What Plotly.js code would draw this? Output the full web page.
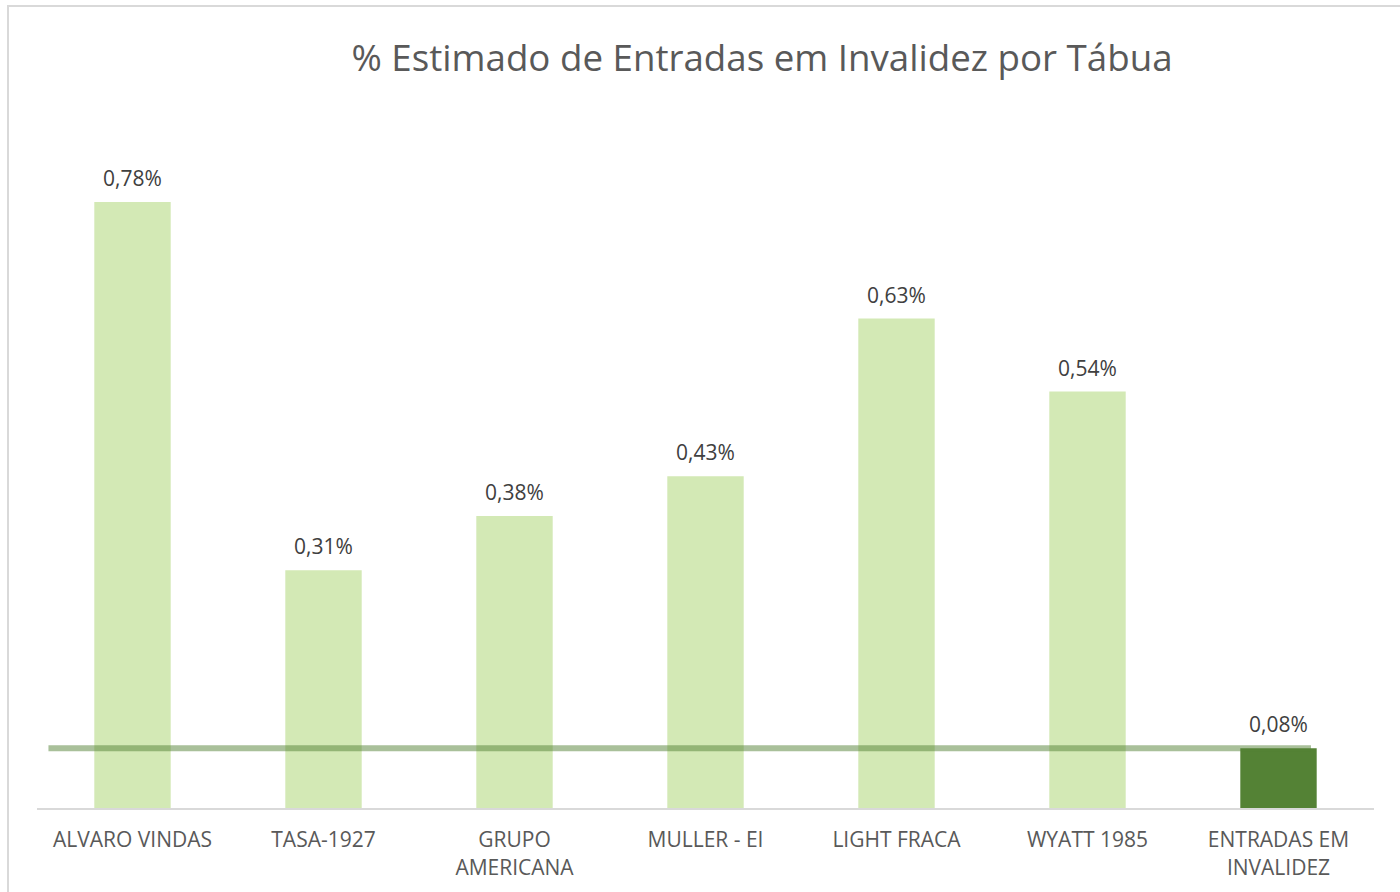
<!DOCTYPE html>
<html>
<head>
<meta charset="utf-8">
<script src="https://cdn.plot.ly/plotly-3.0.1.min.js"></script>
<style>
html,body{margin:0;padding:0;background:#fff;overflow:hidden;}
#chart{width:1400px;height:892px;}
#frame{position:absolute;left:7px;top:5px;width:1393px;height:887px;border-left:2px solid #d9d9d9;border-top:2px solid #d9d9d9;pointer-events:none;box-sizing:border-box;}
</style>
</head>
<body>
<div id="chart"></div>
<div id="frame"></div>
<script>
var categories = ["ALVARO VINDAS", "TASA-1927", "GRUPO<br>AMERICANA", "MULLER - EI", "LIGHT FRACA", "WYATT 1985", "ENTRADAS EM<br>INVALIDEZ"];
var values = [0.78, 0.306, 0.376, 0.427, 0.63, 0.536, 0.077];
var barColors = ["#d3e9b5", "#d3e9b5", "#d3e9b5", "#d3e9b5", "#d3e9b5", "#d3e9b5", "#548235"];
var referenceValue = values[values.length - 1];

var labels = values.map(function(v){ return v.toFixed(2).replace(".", ",") + "%"; });
var xs = categories.map(function(c, i){ return i; });

var font = "'Open Sans', 'Noto Sans', sans-serif";

var trace = {
  type: "bar",
  x: xs,
  y: values,
  width: 0.4,
  marker: {color: barColors},
  hoverinfo: "skip"
};

var annotations = values.map(function(v, i){
  return {x: xs[i], y: v, xref: "x", yref: "y", text: labels[i], showarrow: false,
          yanchor: "bottom", yshift: 8, font: {family: font, size: 21, color: "#404040"}};
});

var layout = {
  width: 1400, height: 892,
  margin: {l: 37, r: 26, t: 120, b: 84},
  paper_bgcolor: "#fff", plot_bgcolor: "#fff",
  showlegend: false,
  title: {text: "% Estimado de Entradas em Invalidez por Tábua", x: 762/1400, xref: "container", xanchor: "center",
          y: 1 - 58/892, yref: "container", yanchor: "middle",
          font: {family: font, size: 36.7, color: "#595959"}},
  xaxis: {
    range: [-0.5, 6.5],
    tickmode: "array", tickvals: xs, ticktext: categories,
    showgrid: false, zeroline: false,
    showline: true, linecolor: "#d9d9d9", linewidth: 2,
    ticks: "", ticklen: 0, ticklabelstandoff: 12,
    tickfont: {family: font, size: 21, color: "#595959"},
    fixedrange: true
  },
  yaxis: {
    range: [0, 0.78 * (808 - 120) / 606],
    visible: false, showgrid: false, zeroline: false, fixedrange: true
  },
  shapes: [{
    type: "line", xref: "x", yref: "y",
    x0: -0.44, x1: 6.17, y0: referenceValue, y1: referenceValue,
    line: {color: "rgba(84,130,53,0.5)", width: 6},
    layer: "above"
  }],
  annotations: annotations
};

Plotly.newPlot("chart", [trace], layout, {displayModeBar: false, staticPlot: true});
</script>
</body>
</html>
